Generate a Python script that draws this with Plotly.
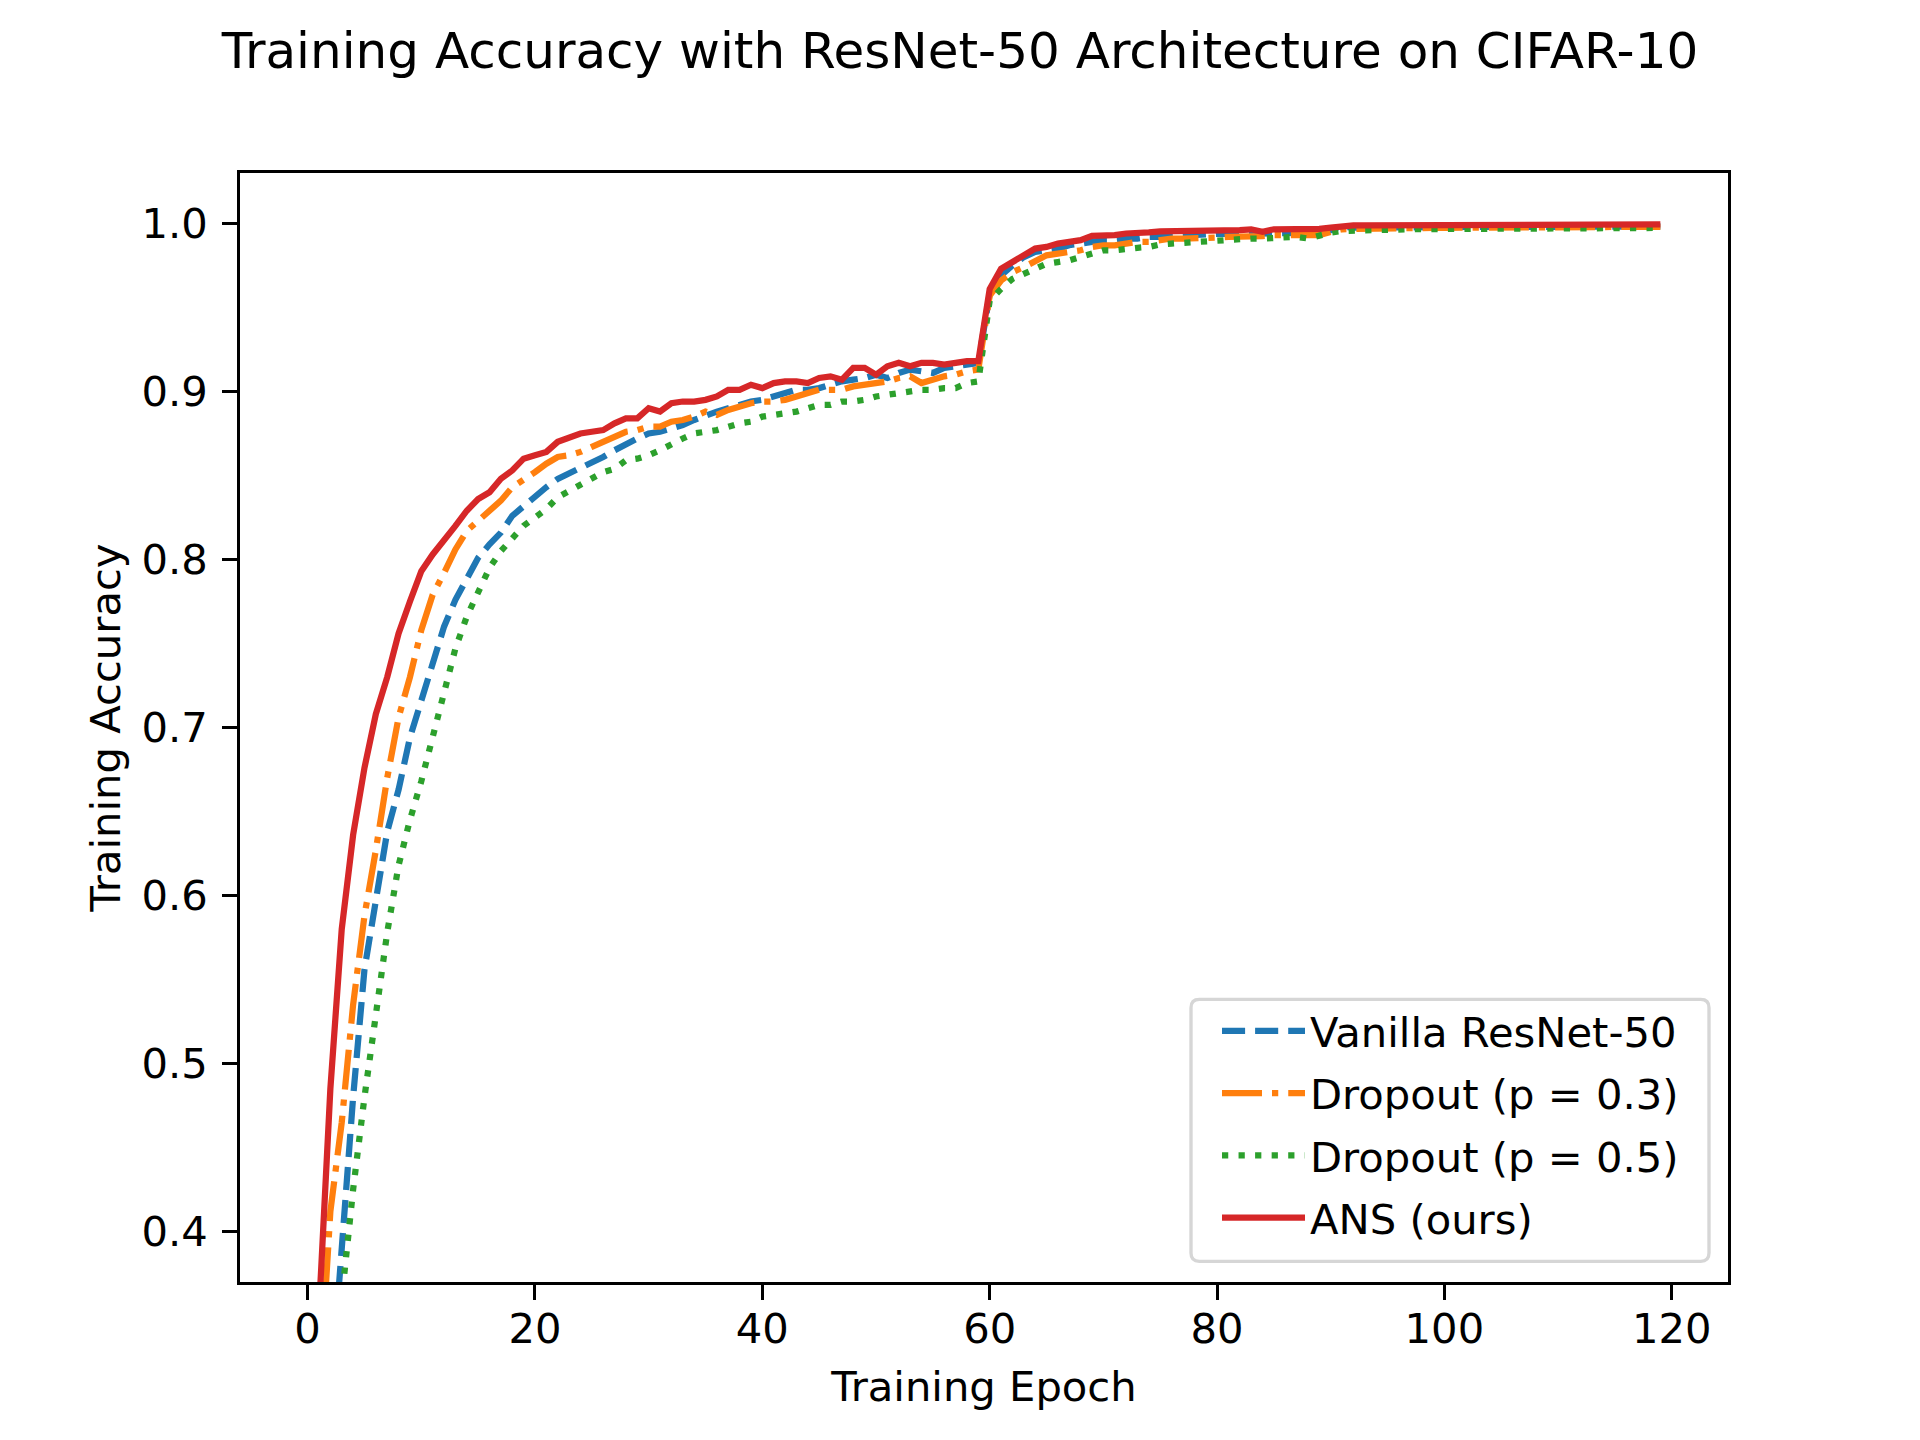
import plotly.graph_objects as go

# ---------------- data ----------------
epochs = list(range(120))

vanilla = [
    0.15, 0.24, 0.30, 0.39, 0.48, 0.556, 0.600, 0.638, 0.663, 0.694,
    0.716, 0.739, 0.760, 0.776, 0.789, 0.801, 0.809, 0.816, 0.826, 0.832,
    0.838, 0.843, 0.848, 0.851, 0.854, 0.858, 0.861, 0.865, 0.869, 0.872,
    0.875, 0.876, 0.878, 0.880, 0.883, 0.886, 0.888, 0.890, 0.892, 0.894,
    0.895, 0.897, 0.899, 0.901, 0.901, 0.902, 0.904, 0.906, 0.907, 0.908,
    0.910, 0.908, 0.911, 0.913, 0.912, 0.911, 0.914, 0.915, 0.916, 0.917,
    0.958, 0.969, 0.975, 0.980, 0.983, 0.984, 0.985, 0.987, 0.988, 0.989,
    0.990, 0.990, 0.991, 0.991, 0.992, 0.992, 0.9925, 0.993, 0.9934, 0.9936,
    0.9938, 0.9938, 0.9938, 0.9939, 0.9939, 0.9938, 0.9940, 0.9940, 0.9940, 0.9945,
    0.996, 0.998, 0.9975, 0.9976, 0.9976, 0.9977, 0.9977, 0.9976, 0.9977, 0.9978,
    0.9978, 0.9978, 0.9979, 0.9979, 0.9978, 0.9979, 0.9980, 0.9979, 0.9980, 0.9980,
    0.9980, 0.9980, 0.9981, 0.9980, 0.9981, 0.9981, 0.9981, 0.9981, 0.9982, 0.9982,
]

dropout_03 = [
    0.17, 0.30, 0.412, 0.465, 0.535, 0.588, 0.627, 0.670, 0.706, 0.730,
    0.758, 0.779, 0.792, 0.806, 0.817, 0.823, 0.829, 0.835, 0.843, 0.847,
    0.852, 0.857, 0.861, 0.862, 0.864, 0.867, 0.870, 0.873, 0.876, 0.877,
    0.879, 0.879, 0.882, 0.883, 0.885, 0.888, 0.886, 0.889, 0.891, 0.893,
    0.894, 0.894, 0.895, 0.897, 0.899, 0.901, 0.901, 0.901, 0.903, 0.904,
    0.905, 0.906, 0.908, 0.909, 0.905, 0.907, 0.909, 0.910, 0.912, 0.913,
    0.957, 0.966, 0.971, 0.974, 0.978, 0.981, 0.982, 0.983, 0.984, 0.986,
    0.987, 0.987, 0.988, 0.989, 0.989, 0.990, 0.991, 0.991, 0.991, 0.9915,
    0.9916, 0.992, 0.992, 0.9925, 0.9925, 0.993, 0.993, 0.993, 0.993, 0.993,
    0.995, 0.9965, 0.9968, 0.9970, 0.9970, 0.9971, 0.9972, 0.9972, 0.9973, 0.9973,
    0.9974, 0.9974, 0.9975, 0.9975, 0.9975, 0.9976, 0.9976, 0.9976, 0.9977, 0.9977,
    0.9977, 0.9978, 0.9978, 0.9978, 0.9978, 0.9979, 0.9979, 0.9979, 0.9979, 0.9980,
]

dropout_05 = [
    0.10, 0.18, 0.27, 0.36, 0.425, 0.48, 0.53, 0.578, 0.618, 0.645,
    0.668, 0.695, 0.721, 0.747, 0.766, 0.781, 0.795, 0.805, 0.813, 0.820,
    0.825, 0.830, 0.837, 0.841, 0.845, 0.849, 0.852, 0.854, 0.859, 0.860,
    0.862, 0.865, 0.869, 0.872, 0.875, 0.876, 0.877, 0.879, 0.881, 0.882,
    0.885, 0.886, 0.887, 0.888, 0.890, 0.892, 0.892, 0.894, 0.894, 0.895,
    0.897, 0.898, 0.899, 0.900, 0.901, 0.901, 0.902, 0.902, 0.905, 0.906,
    0.954, 0.961, 0.967, 0.970, 0.973, 0.976, 0.977, 0.978, 0.980, 0.982,
    0.984, 0.984, 0.985, 0.9855, 0.986, 0.9875, 0.988, 0.9885, 0.989, 0.989,
    0.990, 0.990, 0.9908, 0.991, 0.991, 0.9916, 0.992, 0.992, 0.991, 0.993,
    0.9945, 0.9955, 0.9958, 0.9960, 0.9962, 0.9963, 0.9964, 0.9965, 0.9966, 0.9966,
    0.9967, 0.9967, 0.9968, 0.9968, 0.9969, 0.9969, 0.9970, 0.9970, 0.9970, 0.9971,
    0.9971, 0.9971, 0.9972, 0.9972, 0.9972, 0.9972, 0.9973, 0.9973, 0.9973, 0.9973,
]

ans = [
    0.22, 0.358, 0.485, 0.580, 0.636, 0.676, 0.708, 0.730, 0.756, 0.775,
    0.793, 0.803, 0.811, 0.820, 0.829, 0.836, 0.840, 0.848, 0.853, 0.860,
    0.862, 0.864, 0.870, 0.873, 0.875, 0.876, 0.877, 0.881, 0.884, 0.884,
    0.890, 0.888, 0.893, 0.894, 0.894, 0.895, 0.897, 0.901, 0.901, 0.904,
    0.902, 0.905, 0.906, 0.906, 0.905, 0.908, 0.909, 0.907, 0.914, 0.914,
    0.910, 0.915, 0.917, 0.915, 0.917, 0.917, 0.916, 0.917, 0.918, 0.918,
    0.961, 0.973, 0.977, 0.982, 0.985, 0.986, 0.988, 0.989, 0.990, 0.9926,
    0.9924, 0.993, 0.994, 0.994, 0.9946, 0.9953, 0.9953, 0.996, 0.996, 0.996,
    0.9953, 0.996, 0.996, 0.9965, 0.995, 0.9965, 0.9965, 0.9965, 0.996, 0.9967,
    0.9975, 0.9985, 0.9988, 0.9989, 0.9989, 0.9990, 0.9990, 0.9989, 0.9990, 0.9990,
    0.9991, 0.9991, 0.9990, 0.9991, 0.9991, 0.9992, 0.9991, 0.9992, 0.9992, 0.9992,
    0.9993, 0.9992, 0.9993, 0.9993, 0.9993, 0.9993, 0.9994, 0.9993, 0.9994, 0.9994,
]

series_names = ["Vanilla ResNet-50", "Dropout (p = 0.3)", "Dropout (p = 0.5)", "ANS (ours)"]
series_values = [vanilla, dropout_03, dropout_05, ans]

x_tick_vals = [0, 20, 40, 60, 80, 100, 120]
y_tick_vals = [0.4, 0.5, 0.6, 0.7, 0.8, 0.9, 1.0]
y_tick_text = ["0.4", "0.5", "0.6", "0.7", "0.8", "0.9", "1.0"]

title_text = "Training Accuracy with ResNet-50 Architecture on CIFAR-10"
x_label = "Training Epoch"
y_label = "Training Accuracy"

# ---------------- styling ----------------
# The page body has an 8px margin, so the figure is drawn 8px smaller and
# every position is expressed relative to its own top-left corner.
OFF = 8
W, H = 1920 - OFF, 1440 - OFF
L, R, T, B = 240 - OFF, 1728 - OFF, 172.8 - OFF, 1281.6 - OFF   # plot area in px
FONT = "DejaVu Sans"
FS = 41.7          # 10 pt at 300 dpi
LW = 6.25          # 1.5 pt
SPINE = 3.33       # 0.8 pt

colors = ["#1f77b4", "#ff7f0e", "#2ca02c", "#d62728"]
dashes = ["23.1px,10px", "40px,10px,6.25px,10px", "6.25px,10.3px", "solid"]

fig = go.Figure()
for i, (name, vals, c, d) in enumerate(zip(series_names, series_values, colors, dashes)):
    fig.add_trace(go.Scatter(
        x=epochs, y=vals, mode="lines", name=name, legendgroup=f"g{i}",
        line=dict(color=c, width=LW, dash=d),
    ))

def px2paper_x(px):
    return (px - L) / (R - L)

def px2paper_y(py):
    return (B - py) / (B - T)

# rounded legend frame (real-page px -> figure px)
lx0, lx1, ly0, ly1, rad = 1191 - OFF, 1709 - OFF, 999 - OFF, 1261 - OFF, 8.3
path = (
    f"M {px2paper_x(lx0 + rad)},{px2paper_y(ly0)} "
    f"L {px2paper_x(lx1 - rad)},{px2paper_y(ly0)} "
    f"Q {px2paper_x(lx1)},{px2paper_y(ly0)} {px2paper_x(lx1)},{px2paper_y(ly0 + rad)} "
    f"L {px2paper_x(lx1)},{px2paper_y(ly1 - rad)} "
    f"Q {px2paper_x(lx1)},{px2paper_y(ly1)} {px2paper_x(lx1 - rad)},{px2paper_y(ly1)} "
    f"L {px2paper_x(lx0 + rad)},{px2paper_y(ly1)} "
    f"Q {px2paper_x(lx0)},{px2paper_y(ly1)} {px2paper_x(lx0)},{px2paper_y(ly1 - rad)} "
    f"L {px2paper_x(lx0)},{px2paper_y(ly0 + rad)} "
    f"Q {px2paper_x(lx0)},{px2paper_y(ly0)} {px2paper_x(lx0 + rad)},{px2paper_y(ly0)} Z"
)
fig.add_shape(type="path", path=path, xref="paper", yref="paper",
              line=dict(color="#d6d6d6", width=SPINE), fillcolor="rgba(255,255,255,0.8)",
              layer="above")

fig.update_layout(
    width=W, height=H,
    margin=dict(l=L, r=W - R, t=T, b=H - B, pad=0),
    paper_bgcolor="white", plot_bgcolor="white",
    font=dict(family=FONT, size=FS, color="black"),
    title=dict(text=title_text, x=(960 - OFF) / W, xref="container", xanchor="center",
               y=1 - (33 - OFF) / H, yref="container", yanchor="top",
               font=dict(size=50, family=FONT, color="black")),
    showlegend=True,
    legend=dict(x=px2paper_x(1217 - OFF), xanchor="left",
                y=px2paper_y(997 - OFF), yanchor="top",
                bgcolor="rgba(0,0,0,0)", borderwidth=0,
                font=dict(size=FS, family=FONT, color="black"),
                itemwidth=83, traceorder="grouped", tracegroupgap=5),
)

fig.update_xaxes(
    range=[-5.95, 124.95], tickvals=x_tick_vals,
    ticks="outside", ticklen=14.6, tickwidth=SPINE, tickcolor="black",
    showline=True, linewidth=SPINE, linecolor="black", mirror=True,
    showgrid=False, zeroline=False, ticklabelstandoff=-7,
    tickfont=dict(size=FS, family=FONT, color="black"),
    title=dict(text=x_label, font=dict(size=FS, family=FONT, color="black"), standoff=21),
)
fig.update_yaxes(
    range=[0.37, 1.03], tickvals=y_tick_vals, ticktext=y_tick_text,
    ticks="outside", ticklen=14.6, tickwidth=SPINE, tickcolor="black",
    showline=True, linewidth=SPINE, linecolor="black", mirror=True,
    showgrid=False, zeroline=False, ticklabelstandoff=6,
    tickfont=dict(size=FS, family=FONT, color="black"),
    title=dict(text=y_label, font=dict(size=FS, family=FONT, color="black"), standoff=8),
)

fig.write_html("out.html")
